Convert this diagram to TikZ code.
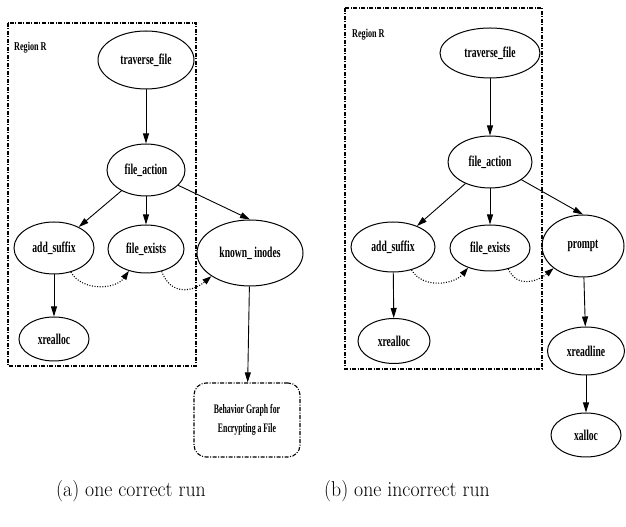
\documentclass[tikz,border=0pt]{standalone}
\usepackage{fontspec}
\newfontfamily\gvfont{Liberation Serif}
\usetikzlibrary{shapes.geometric,arrows.meta}
\newcommand{\gvl}[1]{\scalebox{0.64}[1]{\bfseries #1}}
\newcommand{\capl}[1]{\scalebox{0.92}[1]{#1}}
\begin{document}
\begin{tikzpicture}[x=1pt,y=1pt,
  gv/.style={ellipse,draw,line width=1pt,inner sep=0pt,font=\gvfont\fontsize{15}{17}\selectfont},
  arr/.style={line width=0.9pt,-{Triangle[length=10pt,width=6pt]}},
  darr/.style={line width=1.1pt,dash pattern=on 1pt off 1.6pt,-{Triangle[length=9pt,width=6pt]}},
  region/.style={line width=1.1pt,dash pattern=on 4pt off 1.5pt on 1pt off 1.5pt},
  reglabel/.style={anchor=west,inner sep=0pt,font=\gvfont\bfseries\fontsize{12}{14}\selectfont},
  bgbox/.style={draw,line width=1.1pt,rounded corners=12pt,dash pattern=on 4pt off 1.5pt on 1pt off 1.5pt,minimum width=106pt,minimum height=74pt,align=center,inner sep=0pt,font=\gvfont\bfseries\fontsize{13}{19}\selectfont},
  caption/.style={font=\fontsize{21.5}{25}\selectfont,inner sep=0pt}]
\useasboundingbox (0,0) rectangle (626,527);
% ---------- left panel ----------
\draw[region] (8,504) rectangle (196,161);
\node[reglabel] (rla) at (14,479) {\scalebox{0.68}[1]{Region R}};
\node[gv,minimum width=96pt,minimum height=58pt] (tfa) at (146,467) {\gvl{traverse\_file}};
\node[gv,minimum width=78pt,minimum height=52pt] (faa) at (146,357) {\gvl{file\_action}};
\node[gv,minimum width=80pt,minimum height=52pt] (asa) at (54,279) {\gvl{add\_suffix}};
\node[gv,minimum width=76pt,minimum height=48pt] (fea) at (146,278) {\gvl{file\_exists}};
\node[gv,minimum width=106pt,minimum height=66pt] (kia) at (250,274) {\gvl{known\_ inodes}};
\node[gv,minimum width=70pt,minimum height=44pt] (xra) at (54,188) {\gvl{xrealloc}};
\node[bgbox] (bga) at (247,107) {\scalebox{0.6}[1]{Behavior Graph for}\\\scalebox{0.6}[1]{Encrypting a File}};
\draw[arr] (tfa) -- (faa);
\draw[arr] (faa) -- (asa);
\draw[arr] (faa) -- (fea);
\draw[arr] (faa) -- (kia.north);
\draw[arr] (asa) -- (xra);
\draw[arr] (kia) -- (bga);
\draw[darr] (asa.-55) to[out=-60,in=-125] (fea.-128);
\draw[darr] (fea.-55) to[out=-70,in=-140,looseness=1.3] (kia.-149);
\node[caption] (capa) at (131,36) {\capl{(a) one correct run}};
% ---------- right panel ----------
\draw[region] (345,519) rectangle (542,158);
\node[reglabel] (rlb) at (352,492) {\scalebox{0.68}[1]{Region R}};
\node[gv,minimum width=100pt,minimum height=50pt] (tfb) at (490,474) {\gvl{traverse\_file}};
\node[gv,minimum width=84pt,minimum height=52pt] (fab) at (490,365) {\gvl{file\_action}};
\node[gv,minimum width=84pt,minimum height=50pt] (asb) at (393,280) {\gvl{add\_suffix}};
\node[gv,minimum width=80pt,minimum height=46pt] (feb) at (490,279) {\gvl{file\_exists}};
\node[gv,minimum width=82pt,minimum height=62pt] (prb) at (583,281) {\gvl{prompt}};
\node[gv,minimum width=72pt,minimum height=45pt] (xrb) at (394,186) {\gvl{xrealloc}};
\node[gv,minimum width=77pt,minimum height=48pt] (xlb) at (586,176) {\gvl{xreadline}};
\node[gv,minimum width=70pt,minimum height=44pt] (xab) at (586,92) {\gvl{xalloc}};
\draw[arr] (tfb) -- (fab);
\draw[arr] (fab) -- (asb);
\draw[arr] (fab) -- (feb);
\draw[arr] (fab) -- (prb.north);
\draw[arr] (asb) -- (xrb);
\draw[arr] (prb) -- (xlb);
\draw[arr] (xlb) -- (xab);
\draw[darr] (asb.-51) to[out=-60,in=-130] (feb.-138);
\draw[darr] (feb.-49) to[out=-65,in=-140,looseness=1.2] (prb.-143);
\node[caption] (capb) at (407,36) {\capl{(b) one incorrect run}};
\end{tikzpicture}
\end{document}
